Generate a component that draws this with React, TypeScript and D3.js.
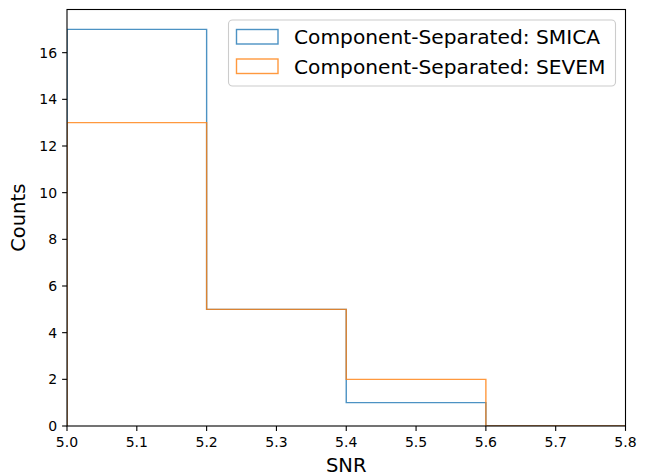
import React from "react";
import * as d3 from "d3";

const binEdges = [5.0, 5.2, 5.4, 5.6, 5.8];
const smicaCounts = [17, 5, 1, 0];
const sevemCounts = [13, 5, 2, 0];
const seriesNames = ["Component-Separated: SMICA", "Component-Separated: SEVEM"];
const seriesColors = ["#1f77b4", "#ff7f0e"];
const xTicks = [5.0, 5.1, 5.2, 5.3, 5.4, 5.5, 5.6, 5.7, 5.8];
const yTicks = [0, 2, 4, 6, 8, 10, 12, 14, 16];

const W = 654;
const H = 475;
const left = 67, right = 625.5, top = 9.5, bottom = 426;
const FONT = "DejaVu Sans, sans-serif";

export default function App() {
  const x = d3.scaleLinear().domain([5.0, 5.8]).range([left, right]);
  const y = d3.scaleLinear().domain([0, 17.85]).range([bottom, top]);

  const stepPath = (counts: number[]) => {
    const pts: [number, number][] = [[binEdges[0], 0]];
    counts.forEach((c, i) => {
      pts.push([binEdges[i], c]);
      pts.push([binEdges[i + 1], c]);
    });
    pts.push([binEdges[binEdges.length - 1], 0]);
    return d3.line<[number, number]>().x((d) => x(d[0])).y((d) => y(d[1]))(pts) || "";
  };

  const series = [smicaCounts, sevemCounts];
  const tickLen = 4.9;

  return (
    <svg width={W} height={H} style={{ position: "absolute", left: 0, top: 0 }} fontFamily={FONT}>
      <rect x={0} y={0} width={W} height={H} fill="white" />
      <defs>
        <clipPath id="plotclip">
          <rect x={left} y={top} width={right - left} height={bottom - top} />
        </clipPath>
      </defs>
      <g clipPath="url(#plotclip)">
        {series.map((s, i) => (
          <path key={i} d={stepPath(s)} fill="none" stroke={seriesColors[i]} strokeOpacity={0.8} strokeWidth={1.4} />
        ))}
      </g>
      <rect x={left} y={top} width={right - left} height={bottom - top} fill="none" stroke="black" strokeWidth={1.1} />
      {xTicks.map((t) => (
        <g key={t}>
          <line x1={x(t)} x2={x(t)} y1={bottom} y2={bottom + tickLen} stroke="black" strokeWidth={1.1} />
          <text x={x(t)} y={bottom + 20.5} fontSize={14} textAnchor="middle" fill="black">{t.toFixed(1)}</text>
        </g>
      ))}
      {yTicks.map((t) => (
        <g key={t}>
          <line x1={left - tickLen} x2={left} y1={y(t)} y2={y(t)} stroke="black" strokeWidth={1.1} />
          <text x={left - tickLen - 4.9} y={y(t)} dy="0.36em" fontSize={14} textAnchor="end" fill="black">{t}</text>
        </g>
      ))}
      <text x={(left + right) / 2} y={471.5} fontSize={19.5} textAnchor="middle" fill="black">SNR</text>
      <text transform={`translate(25,${(top + bottom) / 2}) rotate(-90)`} fontSize={19.5} textAnchor="middle" fill="black">Counts</text>
      <rect x={228.5} y={20} width={387} height={66} rx={4} ry={4} fill="white" fillOpacity={0.8} stroke="#cccccc" strokeWidth={1.1} />
      {seriesNames.map((n, i) => (
        <g key={n}>
          <rect x={236.5} y={29.5 + i * 29.5} width={41.5} height={14.5} fill="none" stroke={seriesColors[i]} strokeOpacity={0.8} strokeWidth={1.4} />
          <text x={294} y={36.8 + i * 29.5} dy="0.36em" fontSize={20.2} fill="black">{n}</text>
        </g>
      ))}
    </svg>
  );
}
